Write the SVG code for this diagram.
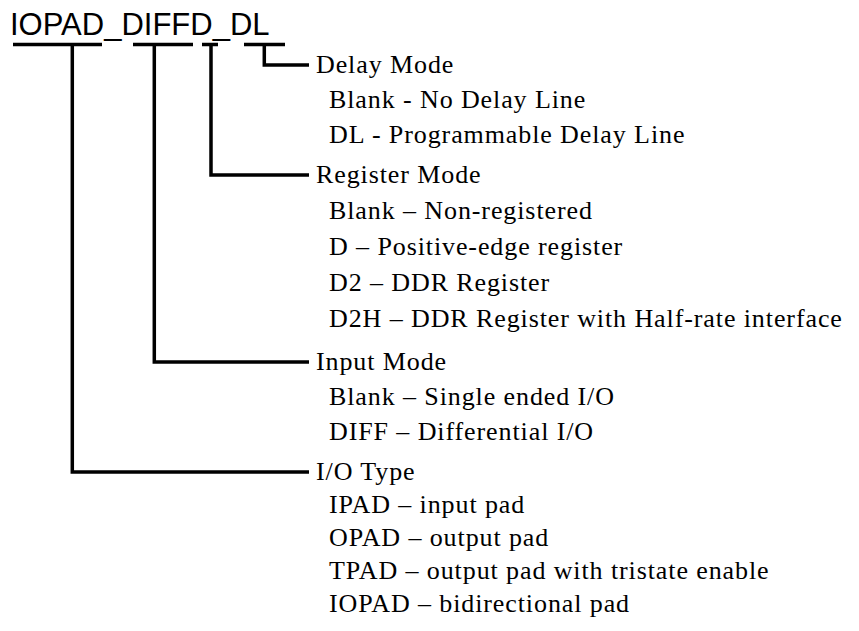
<svg xmlns="http://www.w3.org/2000/svg" width="859" height="631" viewBox="0 0 859 631">
<style>
.t{font-family:"Liberation Sans",Arial,sans-serif;font-size:31px;fill:#000}
.h{font-family:"Liberation Serif","Times New Roman",serif;font-size:26px;letter-spacing:0.9px;fill:#000}
.c{fill:none;stroke:#000;stroke-width:3.5;stroke-linejoin:miter;stroke-linecap:butt}
</style>
<rect width="859" height="631" fill="#fff"/>
<g id="title">
<text class="t" x="10" y="35">IOPAD_DIFFD_DL</text>
</g>
<g id="connectors">
<path class="c" d="M13 44.5H102M133 44.5H193M202 44.5H218M244 44.5H285"/>
<polyline class="c" points="264.3,44.5 264.3,65 309,65"/>
<polyline class="c" points="211,44.5 211,175 309,175"/>
<polyline class="c" points="154.3,44.5 154.3,362 309,362"/>
<polyline class="c" points="72.3,44.5 72.3,472 309,472"/>
</g>
<g id="delay-mode">
<text class="h" x="316" y="73">Delay Mode</text>
<text class="h" x="329" y="108">Blank - No Delay Line</text>
<text class="h" x="329" y="143">DL - Programmable Delay Line</text>
</g>
<g id="register-mode">
<text class="h" x="316" y="183">Register Mode</text>
<text class="h" x="329" y="219">Blank – Non-registered</text>
<text class="h" x="329" y="255">D – Positive-edge register</text>
<text class="h" x="329" y="291">D2 – DDR Register</text>
<text class="h" x="329" y="327">D2H – DDR Register with Half-rate interface</text>
</g>
<g id="input-mode">
<text class="h" x="316" y="370">Input Mode</text>
<text class="h" x="329" y="405">Blank – Single ended I/O</text>
<text class="h" x="329" y="440">DIFF – Differential I/O</text>
</g>
<g id="io-type">
<text class="h" x="316" y="480">I/O Type</text>
<text class="h" x="329" y="513">IPAD – input pad</text>
<text class="h" x="329" y="546">OPAD – output pad</text>
<text class="h" x="329" y="579">TPAD – output pad with tristate enable</text>
<text class="h" x="329" y="612">IOPAD – bidirectional pad</text>
</g>
</svg>
